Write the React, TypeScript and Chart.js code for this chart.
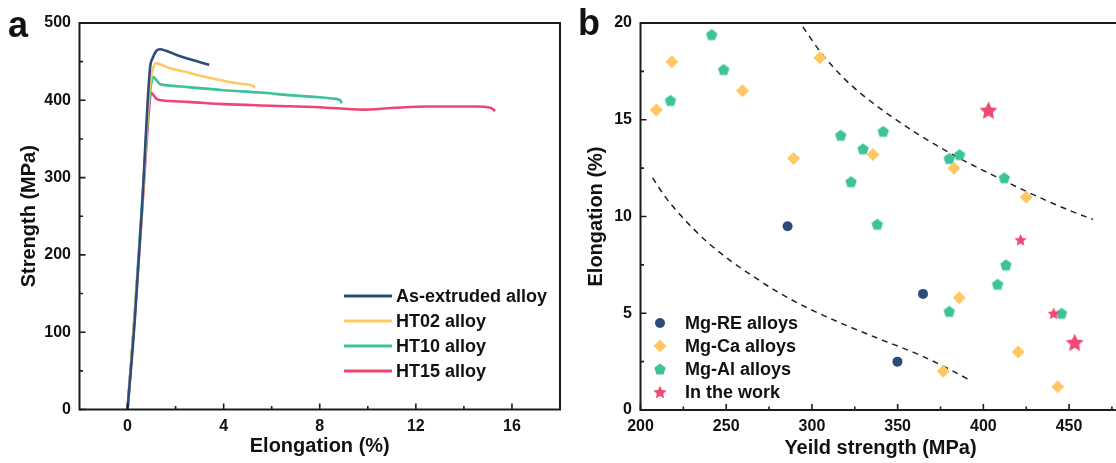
import React, { useEffect, useRef } from "react";
import { Chart, registerables } from "chart.js";

Chart.register(...registerables);

const FONT = "'Liberation Sans', Arial, Helvetica, sans-serif";
const INK = "#1c1c1c";

// ---------------- Panel a: tensile curves ----------------
const seriesNamesA = ["As-extruded alloy", "HT02 alloy", "HT10 alloy", "HT15 alloy"];
const colorsA = ["#2b4c7c", "#ffc864", "#3dc19a", "#ee4673"];

const asExtrudedStrain = [0, 0.3, 0.6, 0.93, 1.05, 1.2, 1.35, 1.6, 2.1, 2.7, 3.4];
const asExtrudedStress = [0, 115, 260, 440, 455, 464, 466, 464, 458, 452, 446];

const ht02Strain = [0, 0.3, 0.6, 0.9, 1.05, 1.17, 1.4, 1.8, 2.4, 3.0, 3.6, 4.2, 4.8, 5.2, 5.3];
const ht02Stress = [0, 121, 255, 410, 440, 448, 446, 441, 437, 432, 428, 424, 421, 419, 416];

const ht10Strain = [0, 0.3, 0.6, 0.9, 1.0, 1.08, 1.2, 1.35, 1.5, 2.5, 4.0, 5.5, 7.0, 8.0, 8.6, 8.85, 8.92];
const ht10Stress = [0, 125, 265, 400, 424, 430, 426, 421, 420, 417, 413, 410, 406, 404, 402, 400, 396];

const ht15Strain = [0, 0.3, 0.6, 0.9, 0.97, 1.05, 1.2, 1.4, 2.5, 4.0, 6.0, 8.0, 9.8, 11.0, 12.5, 14.5, 15.1, 15.3];
const ht15Stress = [0, 121, 255, 390, 410, 408, 402, 400, 398, 395, 393, 391, 388, 390, 392, 392, 390.5, 386];

const aXTicks = [0, 4, 8, 12, 16];
const aXMinor = [2, 6, 10, 14];
const aYTicks = [0, 100, 200, 300, 400, 500];
const aYMinor = [50, 150, 250, 350, 450];

// ---------------- Panel b: elongation vs yield strength ----------------
const seriesNamesB = ["Mg-RE alloys", "Mg-Ca alloys", "Mg-Al alloys", "In the work"];
const colorsB = ["#2a4b7c", "#ffc864", "#3cc39b", "#ee4a74"];

const reYield = [285.8, 364.8, 349.9];
const reElong = [9.5, 6.0, 2.5];

const caYield = [209.2, 218.3, 259.5, 304.6, 289.3, 335.6, 382.8, 425.0, 385.9, 376.6, 420.3, 443.4];
const caElong = [15.5, 18.0, 16.5, 18.2, 13.0, 13.2, 12.5, 11.0, 5.8, 2.0, 3.0, 1.2];

const alYield = [241.5, 248.5, 217.5, 316.8, 341.6, 329.8, 322.8, 338.1, 380.1, 386.1, 412.2, 413.2, 408.3, 380.1, 445.6];
const alElong = [19.4, 17.6, 16.0, 14.2, 14.4, 13.5, 11.8, 9.6, 13.0, 13.2, 12.0, 7.5, 6.5, 5.1, 5.0];

const workYield = [403.0, 421.7, 441.0, 453.3];
const workElong = [15.5, 8.8, 5.0, 3.5];

const upperYield = [294.7, 305, 318, 330, 345, 362, 380, 395, 411, 425, 440, 452, 464];
const upperElong = [19.8, 18.5, 17.2, 16.25, 15.25, 14.25, 13.3, 12.6, 11.9, 11.3, 10.7, 10.25, 9.85];

const lowerYield = [207, 215, 223, 231, 240, 252, 265, 280, 298, 318, 340, 360, 377, 391];
const lowerElong = [12.0, 10.95, 10.1, 9.35, 8.6, 7.75, 6.95, 6.1, 5.25, 4.45, 3.65, 2.95, 2.25, 1.6];

const bXTicks = [200, 250, 300, 350, 400, 450];
const bXMinor = [225, 275, 325, 375, 425, 475];
const bYTicks = [0, 5, 10, 15, 20];
const bYMinor = [2.5, 7.5, 12.5, 17.5];

const zip = (xs: number[], ys: number[]) => xs.map((x, i) => ({ x, y: ys[i] }));

function makeMarker(kind: "pentagon" | "star", r: number, color: string) {
  const size = Math.ceil(r * 2 + 4);
  const c = document.createElement("canvas");
  c.width = size;
  c.height = size;
  const g = c.getContext("2d")!;
  const cx = size / 2;
  const cy = size / 2;
  g.fillStyle = color;
  g.beginPath();
  if (kind === "pentagon") {
    for (let i = 0; i < 5; i++) {
      const a = -Math.PI / 2 + (i * 2 * Math.PI) / 5;
      const px = cx + r * Math.cos(a);
      const py = cy + r * Math.sin(a) + r * 0.1;
      if (i === 0) g.moveTo(px, py);
      else g.lineTo(px, py);
    }
  } else {
    for (let i = 0; i < 10; i++) {
      const a = -Math.PI / 2 + (i * Math.PI) / 5;
      const rr = i % 2 === 0 ? r : r * 0.48;
      const px = cx + rr * Math.cos(a);
      const py = cy + rr * Math.sin(a) + r * 0.1;
      if (i === 0) g.moveTo(px, py);
      else g.lineTo(px, py);
    }
  }
  g.closePath();
  g.fill();
  return c;
}

const decorPlugin = {
  id: "decor",
  afterDatasetsDraw(chart: any, _args: any, opts: any) {
    const { ctx, chartArea: ca } = chart;
    const xs = chart.scales.x;
    const ys = chart.scales.y;
    ctx.save();
    // frame
    ctx.strokeStyle = INK;
    ctx.lineWidth = 2;
    ctx.beginPath();
    ctx.rect(ca.left, ca.top, ca.right - ca.left, ca.bottom - ca.top);
    ctx.stroke();
    // inward ticks
    ctx.lineWidth = 1.6;
    ctx.beginPath();
    const major = 6;
    const minor = 3.5;
    for (const v of opts.xMajor) {
      const p = xs.getPixelForValue(v);
      ctx.moveTo(p, ca.bottom);
      ctx.lineTo(p, ca.bottom - major);
    }
    for (const v of opts.xMinor) {
      const p = xs.getPixelForValue(v);
      ctx.moveTo(p, ca.bottom);
      ctx.lineTo(p, ca.bottom - minor);
    }
    for (const v of opts.yMajor) {
      const p = ys.getPixelForValue(v);
      ctx.moveTo(ca.left, p);
      ctx.lineTo(ca.left + major, p);
    }
    for (const v of opts.yMinor) {
      const p = ys.getPixelForValue(v);
      ctx.moveTo(ca.left, p);
      ctx.lineTo(ca.left + minor, p);
    }
    ctx.stroke();

    // panel letter
    ctx.fillStyle = "#111";
    ctx.font = `bold 36px ${FONT}`;
    ctx.textBaseline = "alphabetic";
    ctx.textAlign = "left";
    ctx.fillText(opts.letter, opts.letterX, opts.letterY);

    // legend
    ctx.font = `bold 18px ${FONT}`;
    ctx.textBaseline = "middle";
    let row = 0;
    chart.data.datasets.forEach((ds: any) => {
      if (ds.inLegend === false) return;
      const y = opts.legendY + row * opts.legendGap;
      if (opts.legendKind === "line") {
        ctx.strokeStyle = ds.borderColor;
        ctx.lineWidth = 3;
        ctx.beginPath();
        ctx.moveTo(opts.legendX, y);
        ctx.lineTo(opts.legendX + 48, y);
        ctx.stroke();
      } else {
        const m = ds.legendMarker;
        if (m instanceof HTMLCanvasElement) {
          ctx.drawImage(m, opts.legendX - m.width / 2, y - m.height / 2);
        } else if (m === "circle") {
          ctx.fillStyle = ds.backgroundColor;
          ctx.beginPath();
          ctx.arc(opts.legendX, y, 5, 0, Math.PI * 2);
          ctx.fill();
        } else if (m === "diamond") {
          ctx.fillStyle = ds.backgroundColor;
          ctx.beginPath();
          ctx.moveTo(opts.legendX, y - 6.5);
          ctx.lineTo(opts.legendX + 6.5, y);
          ctx.lineTo(opts.legendX, y + 6.5);
          ctx.lineTo(opts.legendX - 6.5, y);
          ctx.closePath();
          ctx.fill();
        }
      }
      ctx.fillStyle = "#111";
      ctx.fillText(ds.label, opts.textX, y + 1);
      row++;
    });
    ctx.restore();
  },
};

export default function App() {
  const refA = useRef<HTMLCanvasElement>(null);
  const refB = useRef<HTMLCanvasElement>(null);

  useEffect(() => {
    const tickFont = { family: FONT, size: 16, weight: "bold" as const };
    const titleFont = { family: FONT, size: 20, weight: "bold" as const };

    const lineDs = (label: string, color: string, xs: number[], ys: number[]) => ({
      label,
      data: zip(xs, ys),
      borderColor: color,
      backgroundColor: color,
      borderWidth: 2.6,
      pointRadius: 0,
      showLine: true,
      cubicInterpolationMode: "monotone" as const,
    });

    const chartA = new Chart(refA.current!, {
      type: "scatter",
      data: {
        datasets: [
          lineDs(seriesNamesA[0], colorsA[0], asExtrudedStrain, asExtrudedStress),
          lineDs(seriesNamesA[1], colorsA[1], ht02Strain, ht02Stress),
          lineDs(seriesNamesA[2], colorsA[2], ht10Strain, ht10Stress),
          lineDs(seriesNamesA[3], colorsA[3], ht15Strain, ht15Stress),
        ],
      },
      options: {
        animation: false,
        responsive: false,
        devicePixelRatio: 1,
        events: [],
        layout: { padding: { left: 0, top: 23, right: 6, bottom: 0 } },
        scales: {
          x: {
            type: "linear",
            min: -2,
            max: 18,
            grid: { display: false, drawTicks: false },
            border: { display: false },
            afterBuildTicks: (s: any) => {
              s.ticks = aXTicks.map((v) => ({ value: v }));
            },
            afterFit: (s: any) => {
              s.height = 463 - 409.5;
            },
            ticks: { font: tickFont, color: "#111", padding: 7, autoSkip: false, maxRotation: 0 },
            title: {
              display: true,
              text: "Elongation (%)",
              font: titleFont,
              color: "#111",
              padding: { top: 0, bottom: 4.5 },
            },
          },
          y: {
            type: "linear",
            min: 0,
            max: 500,
            grid: { display: false, drawTicks: false },
            border: { display: false },
            afterBuildTicks: (s: any) => {
              s.ticks = aYTicks.map((v) => ({ value: v }));
            },
            afterFit: (s: any) => {
              s.width = 79.5;
            },
            ticks: { font: tickFont, color: "#111", padding: 8.5, autoSkip: false },
            title: {
              display: true,
              text: "Strength (MPa)",
              font: titleFont,
              color: "#111",
              padding: { top: 17, bottom: 0 },
            },
          },
        },
        plugins: {
          legend: { display: false },
          tooltip: { enabled: false },
          decor: {
            xMajor: aXTicks,
            xMinor: aXMinor,
            yMajor: aYTicks,
            yMinor: aYMinor,
            letter: "a",
            letterX: 8,
            letterY: 37,
            legendKind: "line",
            legendX: 344,
            textX: 396,
            legendY: 296,
            legendGap: 25,
          },
        } as any,
      },
      plugins: [decorPlugin],
    } as any);

    const pent = makeMarker("pentagon", 6, colorsB[2]);
    const pentLegend = makeMarker("pentagon", 6, colorsB[2]);
    const starBig = makeMarker("star", 9.5, colorsB[3]);
    const starSmall = makeMarker("star", 6.5, colorsB[3]);
    const starLegend = makeMarker("star", 7, colorsB[3]);

    const dashDs = (xs: number[], ys: number[]) => ({
      label: "",
      inLegend: false,
      order: 3,
      data: zip(xs, ys),
      borderColor: "#222",
      borderWidth: 1.5,
      borderDash: [6, 5],
      pointRadius: 0,
      showLine: true,
      cubicInterpolationMode: "monotone" as const,
    });

    const chartB = new Chart(refB.current!, {
      type: "scatter",
      data: {
        datasets: [
          {
            label: seriesNamesB[0],
            data: zip(reYield, reElong),
            backgroundColor: colorsB[0],
            borderWidth: 0,
            pointStyle: "circle",
            pointRadius: 5,
            legendMarker: "circle",
            order: 1,
          },
          {
            label: seriesNamesB[1],
            data: zip(caYield, caElong),
            backgroundColor: colorsB[1],
            borderWidth: 0,
            pointStyle: "rectRot",
            pointRadius: 6.5,
            legendMarker: "diamond",
            order: 1,
          },
          {
            label: seriesNamesB[2],
            data: zip(alYield, alElong),
            backgroundColor: colorsB[2],
            borderWidth: 0,
            pointStyle: pent,
            legendMarker: pentLegend,
            order: 1,
          },
          {
            label: seriesNamesB[3],
            data: zip(workYield, workElong),
            backgroundColor: colorsB[3],
            borderWidth: 0,
            pointStyle: [starBig, starSmall, starSmall, starBig],
            legendMarker: starLegend,
            order: 0,
          },
          dashDs(upperYield, upperElong),
          dashDs(lowerYield, lowerElong),
        ],
      },
      options: {
        animation: false,
        responsive: false,
        devicePixelRatio: 1,
        events: [],
        layout: { padding: { left: 0, top: 23, right: 15.5, bottom: 0 } },
        scales: {
          x: {
            type: "linear",
            min: 200,
            max: 480,
            grid: { display: false, drawTicks: false },
            border: { display: false },
            afterBuildTicks: (s: any) => {
              s.ticks = bXTicks.map((v) => ({ value: v }));
            },
            afterFit: (s: any) => {
              s.height = 463 - 410;
            },
            ticks: { font: tickFont, color: "#111", padding: 7, autoSkip: false, maxRotation: 0 },
            title: {
              display: true,
              text: "Yeild strength (MPa)",
              font: titleFont,
              color: "#111",
              padding: { top: 0, bottom: 3 },
            },
          },
          y: {
            type: "linear",
            min: 0,
            max: 20,
            grid: { display: false, drawTicks: false },
            border: { display: false },
            afterBuildTicks: (s: any) => {
              s.ticks = bYTicks.map((v) => ({ value: v }));
            },
            afterFit: (s: any) => {
              s.width = 74.5;
            },
            ticks: { font: tickFont, color: "#111", padding: 8.5, autoSkip: false },
            title: {
              display: true,
              text: "Elongation (%)",
              font: titleFont,
              color: "#111",
              padding: { top: 18.7, bottom: 0 },
            },
          },
        },
        plugins: {
          legend: { display: false },
          tooltip: { enabled: false },
          decor: {
            xMajor: bXTicks,
            xMinor: bXMinor,
            yMajor: bYTicks,
            yMinor: bYMinor,
            letter: "b",
            letterX: 12,
            letterY: 35,
            legendKind: "marker",
            legendX: 94,
            textX: 119,
            legendY: 323,
            legendGap: 23,
          },
        } as any,
      },
      plugins: [decorPlugin],
    } as any);

    return () => {
      chartA.destroy();
      chartB.destroy();
    };
  }, []);

  return (
    <div
      style={{
        position: "fixed",
        left: 0,
        top: 0,
        width: 1116,
        height: 463,
        overflow: "hidden",
        background: "#fff",
      }}
    >
      <canvas
        ref={refA}
        width={566}
        height={463}
        style={{ position: "absolute", left: 0, top: 0, width: 566, height: 463 }}
      />
      <canvas
        ref={refB}
        width={570}
        height={463}
        style={{ position: "absolute", left: 566, top: 0, width: 570, height: 463 }}
      />
    </div>
  );
}
